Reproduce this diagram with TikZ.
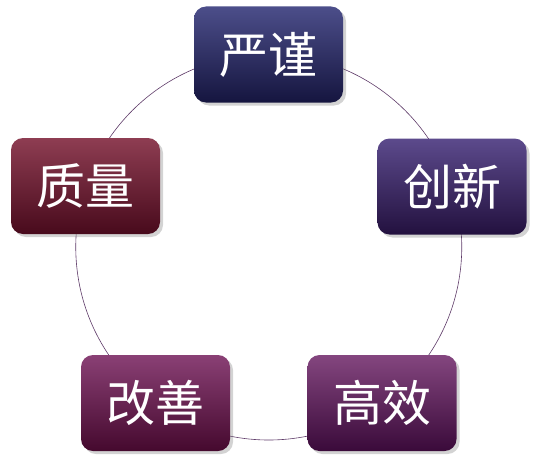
\documentclass[tikz,border=0pt]{standalone}
\usepackage{fontspec}
\newfontfamily\cjk{Noto Sans CJK SC}
\usetikzlibrary{shadows}

\definecolor{navyTop}{HTML}{4C4E8A}
\definecolor{navyBot}{HTML}{15153F}
\definecolor{violetTop}{HTML}{5C4A8C}
\definecolor{violetBot}{HTML}{23113F}
\definecolor{wineTop}{HTML}{8E3D52}
\definecolor{wineBot}{HTML}{480A1C}
\definecolor{plumTop}{HTML}{8A4075}
\definecolor{plumBot}{HTML}{45092E}
\definecolor{grapeTop}{HTML}{84467F}
\definecolor{grapeBot}{HTML}{3A0A3A}
\definecolor{ringLine}{HTML}{5E3A68}

\begin{document}
\begin{tikzpicture}[
        x=1pt, y=1pt,
        value/.style={rectangle, draw=none, minimum width=149pt, minimum height=96pt, rounded corners=12pt,
            text=white, font=\cjk\fontsize{49}{52}\selectfont, inner sep=0pt,
            drop shadow={shadow xshift=3pt, shadow yshift=-3pt, opacity=0.35}},
        ring/.style={draw=ringLine, line width=0.6pt}
    ]
        \useasboundingbox (0,0) rectangle (534,467);

        % ----------------------------------------------------
        % RING
        % ----------------------------------------------------
        \coordinate (hub) at (268.75, 220);
        \draw[ring] (hub) circle (193);

        % ----------------------------------------------------
        % VALUE BOXES
        % ----------------------------------------------------
        \node[value, top color=navyTop, bottom color=navyBot] (rigor) at (268.5, 412.5) {严谨};
        \node[value, top color=violetTop, bottom color=violetBot] (innovation) at (452, 280.5) {创新};
        \node[value, top color=wineTop, bottom color=wineBot] (quality) at (85.5, 281) {质量};
        \node[value, top color=plumTop, bottom color=plumBot] (improve) at (155.5, 64) {改善};
        \node[value, top color=grapeTop, bottom color=grapeBot] (efficiency) at (382, 64) {高效};

\end{tikzpicture}
\end{document}
